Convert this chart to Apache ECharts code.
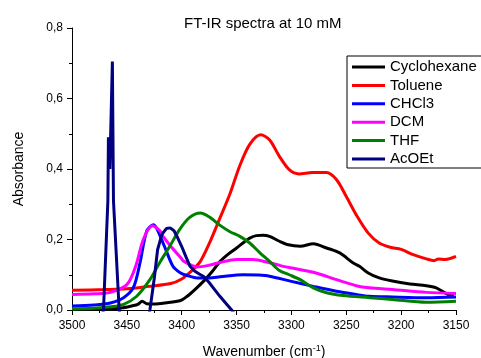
<!DOCTYPE html>
<html>
<head>
<meta charset="utf-8">
<script src="https://cdn.jsdelivr.net/npm/echarts@6/dist/echarts.min.js"></script>
<style>
html,body{margin:0;padding:0;background:#fff;}
#chart{width:481px;height:358px;}
</style>
</head>
<body>
<div id="chart"></div>
<script>
// ---- Data ----
const titleText = 'FT-IR spectra at 10 mM';
const seriesNames = ['Cyclohexane', 'Toluene', 'CHCl3', 'DCM', 'THF', 'AcOEt'];
const seriesColors = ['#000000', '#ff0000', '#0000ff', '#ff00ff', '#008000', '#000080'];

const xTicks = [3150, 3200, 3250, 3300, 3350, 3400, 3450, 3500];
const yTicks = [0, 0.2, 0.4, 0.6, 0.8];
const yTickLabels = ['0,0', '0,2', '0,4', '0,6', '0,8'];

const cyclohexaneX = [3500, 3470, 3455, 3445, 3440, 3436, 3432, 3425, 3415, 3401, 3395, 3388, 3380, 3372, 3365, 3357, 3350, 3343, 3338, 3332, 3326, 3320, 3311, 3304, 3292, 3280, 3268, 3256, 3244, 3238, 3230, 3220, 3208, 3192, 3177, 3168, 3162, 3157, 3152];
const cyclohexaneY = [0.002, 0.003, 0.006, 0.012, 0.016, 0.025, 0.018, 0.017, 0.020, 0.027, 0.039, 0.058, 0.082, 0.110, 0.138, 0.160, 0.176, 0.193, 0.204, 0.211, 0.212, 0.209, 0.195, 0.186, 0.181, 0.188, 0.176, 0.162, 0.134, 0.124, 0.105, 0.091, 0.082, 0.074, 0.069, 0.063, 0.052, 0.044, 0.040];

const tolueneX = [3500, 3470, 3450, 3430, 3410, 3400, 3392, 3383, 3374, 3365, 3356, 3347, 3338, 3328, 3320, 3311, 3302, 3293, 3281, 3268, 3259, 3250, 3240, 3230, 3220, 3210, 3200, 3189, 3177, 3170, 3166, 3160, 3150];
const tolueneY = [0.056, 0.058, 0.060, 0.067, 0.075, 0.088, 0.108, 0.138, 0.195, 0.262, 0.330, 0.410, 0.470, 0.497, 0.483, 0.436, 0.398, 0.386, 0.390, 0.390, 0.370, 0.322, 0.265, 0.218, 0.190, 0.178, 0.172, 0.157, 0.145, 0.140, 0.145, 0.143, 0.152];

const chcl3X = [3500, 3480, 3465, 3453, 3444, 3438, 3432, 3426, 3417, 3408, 3401, 3395, 3386, 3375, 3365, 3344, 3330, 3320, 3301, 3280, 3259, 3241, 3229, 3208, 3177, 3150];
const chcl3Y = [0.011, 0.014, 0.020, 0.035, 0.064, 0.134, 0.223, 0.242, 0.190, 0.124, 0.105, 0.098, 0.091, 0.091, 0.094, 0.100, 0.099, 0.096, 0.082, 0.067, 0.053, 0.044, 0.039, 0.037, 0.035, 0.037];

const dcmX = [3500, 3480, 3465, 3450, 3442, 3435, 3427, 3420, 3417, 3410, 3401, 3398, 3386, 3375, 3365, 3350, 3335, 3320, 3310, 3301, 3280, 3259, 3241, 3229, 3208, 3177, 3150];
const dcmY = [0.044, 0.046, 0.050, 0.072, 0.124, 0.200, 0.239, 0.225, 0.209, 0.181, 0.149, 0.138, 0.122, 0.127, 0.135, 0.143, 0.143, 0.134, 0.126, 0.120, 0.107, 0.086, 0.069, 0.063, 0.058, 0.050, 0.047];

const thfX = [3500, 3480, 3465, 3453, 3441, 3429, 3420, 3411, 3402, 3393, 3383, 3374, 3365, 3356, 3347, 3338, 3329, 3320, 3311, 3302, 3292, 3280, 3268, 3253, 3229, 3208, 3177, 3150];
const thfY = [0.003, 0.005, 0.009, 0.016, 0.039, 0.086, 0.135, 0.180, 0.228, 0.262, 0.275, 0.262, 0.240, 0.222, 0.209, 0.190, 0.163, 0.138, 0.112, 0.100, 0.086, 0.063, 0.049, 0.041, 0.035, 0.030, 0.022, 0.025];

const acoetX = [3475, 3471.3, 3467.3, 3466.8, 3465.5, 3463.2, 3462.2, 3457, 3452, 3435, 3429, 3425, 3422, 3418, 3414, 3410.5, 3407, 3404, 3400, 3396, 3392.5, 3388, 3384, 3380, 3375, 3370, 3365, 3360, 3354.5, 3345];
const acoetY = [-0.05, 0, 0.31, 0.49, 0.40, 0.705, 0.31, 0, -0.08, -0.08, 0, 0.090, 0.171, 0.215, 0.231, 0.233, 0.225, 0.207, 0.180, 0.150, 0.124, 0.110, 0.102, 0.095, 0.078, 0.058, 0.038, 0.020, 0, -0.04];

const seriesX = [cyclohexaneX, tolueneX, chcl3X, dcmX, thfX, acoetX];
const seriesY = [cyclohexaneY, tolueneY, chcl3Y, dcmY, thfY, acoetY];

// ---- Chart ----
const font = 'Liberation Sans, Arial, sans-serif';
const chart = echarts.init(document.getElementById('chart'), null, {renderer: 'canvas'});

const series = seriesNames.map((name, i) => ({
  name: name,
  type: 'line',
  data: seriesX[i].map((x, k) => [x, seriesY[i][k]]),
  showSymbol: false,
  smooth: name === 'AcOEt' ? false : 0.3,
  clip: true,
  lineStyle: {color: seriesColors[i], width: 3},
  itemStyle: {color: seriesColors[i]},
  animation: false
}));

chart.setOption({
  animation: false,
  backgroundColor: '#ffffff',
  title: {
    text: titleText,
    left: 184,
    top: 16,
    padding: 0,
    textStyle: {fontFamily: font, fontSize: 15, fontWeight: 'normal', color: '#000'}
  },
  legend: {
    orient: 'vertical',
    left: 347,
    top: 56,
    padding: [2, 5, 0, 5],
    itemGap: 0.4,
    itemWidth: 33,
    itemHeight: 3,
    icon: 'rect',
    borderColor: '#000',
    borderWidth: 1,
    backgroundColor: '#fff',
    data: seriesNames,
    textStyle: {fontFamily: font, fontSize: 15, color: '#000', lineHeight: 18}
  },
  grid: {left: 72, right: 25, top: 28, bottom: 48, containLabel: false, outerBoundsMode: 'none'},
  xAxis: {
    type: 'value',
    min: xTicks[0],
    max: xTicks[xTicks.length - 1],
    interval: 50,
    inverse: true,
    name: 'Wavenumber (cm{sup|-1})',
    nameLocation: 'middle',
    nameGap: 34,
    nameTextStyle: {
      fontFamily: font, fontSize: 14, color: '#000',
      rich: {sup: {fontFamily: font, fontSize: 9, color: '#000', padding: [0, 0, 7, 0]}}
    },
    axisLine: {show: true, onZero: false, lineStyle: {color: '#000', width: 1}},
    axisTick: {show: true, inside: false, length: 5, lineStyle: {color: '#000'}},
    minorTick: {show: true, splitNumber: 2, length: 3, lineStyle: {color: '#000'}},
    splitLine: {show: false},
    axisLabel: {
      fontFamily: font, fontSize: 12, color: '#000', margin: 10,
      formatter: function (v) { return String(v); }
    }
  },
  yAxis: {
    type: 'value',
    min: yTicks[0],
    max: yTicks[yTicks.length - 1],
    interval: 0.2,
    name: 'Absorbance',
    nameLocation: 'middle',
    nameGap: 46,
    nameTextStyle: {fontFamily: font, fontSize: 14, color: '#000'},
    axisLine: {show: true, onZero: false, lineStyle: {color: '#000', width: 1}},
    axisTick: {show: true, inside: false, length: 5, lineStyle: {color: '#000'}},
    minorTick: {show: true, splitNumber: 2, length: 3, lineStyle: {color: '#000'}},
    splitLine: {show: false},
    axisLabel: {
      fontFamily: font, fontSize: 12, color: '#000', margin: 9,
      formatter: function (v) {
        const idx = yTicks.findIndex(t => Math.abs(t - v) < 1e-9);
        return idx >= 0 ? yTickLabels[idx] : '';
      }
    }
  },
  series: series
});
</script>
</body>
</html>
